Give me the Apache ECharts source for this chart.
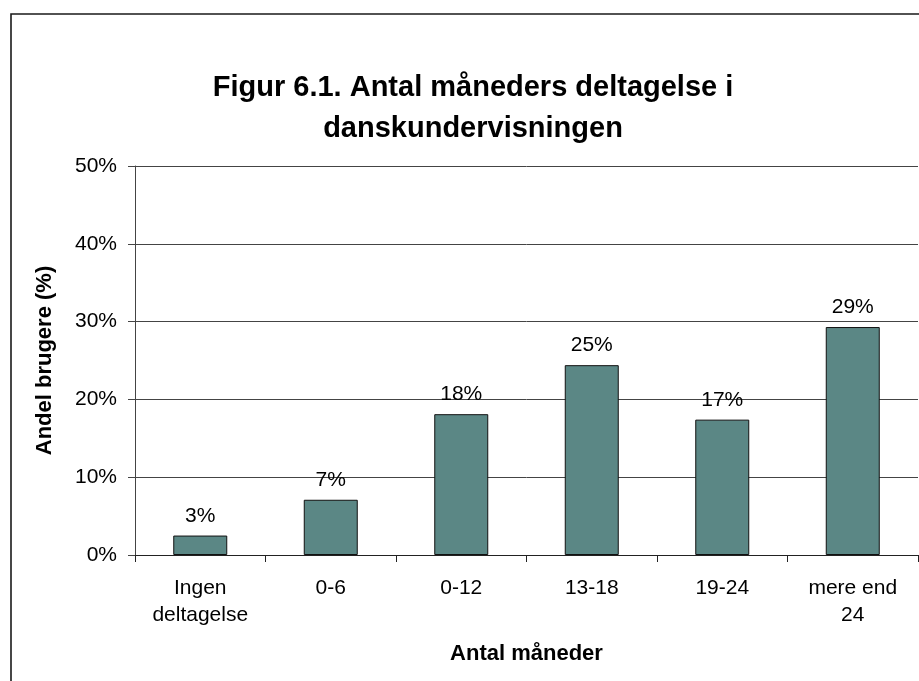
<!DOCTYPE html>
<html>
<head>
<meta charset="utf-8">
<script src="https://cdn.jsdelivr.net/npm/echarts@6/dist/echarts.min.js"></script>
<style>html,body{margin:0;padding:0;background:#fff}#c{width:919px;height:681px}</style>
</head>
<body>
<div id="c"></div>
<script>
const categories = ['Ingen\ndeltagelse', '0-6', '0-12', '13-18', '19-24', 'mere end\n24'];
const values = [2.5, 7.1, 18.1, 24.4, 17.4, 29.3];
const valueLabels = ['3%', '7%', '18%', '25%', '17%', '29%'];
const yTicks = [0, 10, 20, 30, 40, 50];
const titleText = 'Figur 6.1. Antal måneders deltagelse i\ndanskundervisningen';
const xName = 'Antal måneder';
const yName = 'Andel brugere (%)';

const font = '"Liberation Sans", Arial, sans-serif';
const chart = echarts.init(document.getElementById('c'), null, {renderer: 'canvas'});
chart.setOption({
  backgroundColor: '#fff',
  animation: false,
  title: {
    text: titleText,
    left: 468, top: 62, textAlign: 'center',
    textStyle: {fontFamily: font, fontSize: 29, fontWeight: 'bold', color: '#000', lineHeight: 41}
  },
  graphic: [{
    type: 'rect', shape: {x: 11, y: 14, width: 1000, height: 1000},
    style: {fill: 'none', stroke: '#1a1a1a', lineWidth: 1.6}, silent: true
  }],
  grid: {left: 135, right: 1, top: 166, bottom: 126, containLabel: false},
  xAxis: {
    type: 'category', data: categories,
    name: xName, nameLocation: 'middle', nameGap: 88,
    nameTextStyle: {fontFamily: font, fontSize: 22, fontWeight: 'bold', color: '#000'},
    axisLine: {lineStyle: {color: '#222', width: 1}},
    axisTick: {show: true, length: 7, alignWithLabel: false, lineStyle: {color: '#222'}},
    axisLabel: {fontFamily: font, fontSize: 21, color: '#000', lineHeight: 27, margin: 20, interval: 0}
  },
  yAxis: {
    type: 'value', min: yTicks[0], max: yTicks[yTicks.length - 1], interval: 10,
    name: yName, nameLocation: 'middle', nameGap: 79, nameRotate: 90,
    nameTextStyle: {fontFamily: font, fontSize: 22, fontWeight: 'bold', color: '#000'},
    axisLine: {show: true, lineStyle: {color: '#444', width: 1}},
    axisTick: {show: true, length: 7, inside: false, lineStyle: {color: '#444'}},
    axisLabel: {fontFamily: font, fontSize: 21, color: '#000', margin: 18, formatter: v => v + '%'},
    splitLine: {show: true, lineStyle: {color: '#444', width: 1}}
  },
  series: [{
    type: 'bar', data: values, barWidth: 54,
    itemStyle: {color: '#5B8785', borderColor: '#111', borderWidth: 1},
    label: {
      show: true, position: 'top', distance: 9,
      fontFamily: font, fontSize: 21, color: '#000',
      formatter: p => valueLabels[p.dataIndex]
    }
  }]
});
</script>
</body>
</html>
